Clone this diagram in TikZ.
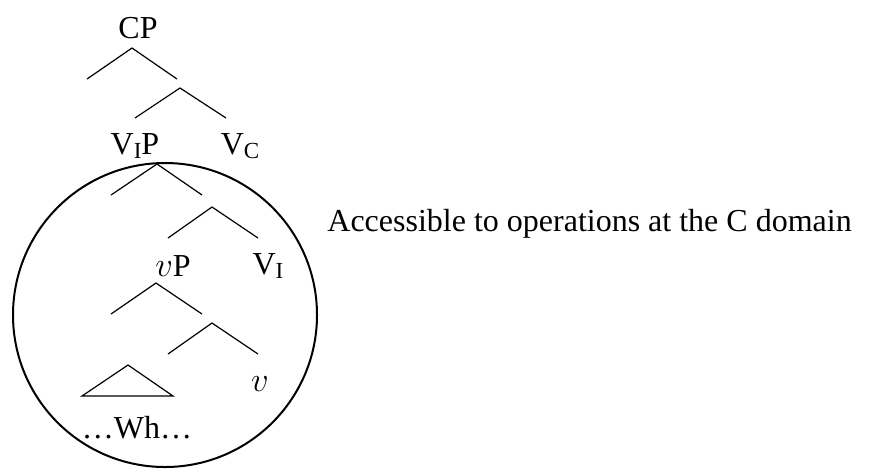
\documentclass[tikz,border=0pt]{standalone}
\usepackage{fontspec}
\setmainfont{Liberation Serif}
\usepackage{tikz}
\usetikzlibrary{positioning,calc}
\tikzset{
  node-label/.style={inner sep=0pt,font=\fontsize{16}{19}\selectfont},
  node-note/.style={inner sep=0pt,anchor=west,font=\fontsize{16}{19}\selectfont},
  branch/.style={line width=0.6pt,line join=miter},
  domain-ring/.style={line width=1pt},
}
\newcommand{\lowsub}[1]{\raisebox{-0.25ex}{\fontsize{11.5}{12}\selectfont #1}}

\begin{document}
\begin{tikzpicture}[x=0.5pt,y=-0.5pt]
  \useasboundingbox (0,0) rectangle (881,468);
  % labels
  \node[node-label] (cp)  at (138,28)  {CP};
  \node[node-label] (vip) at (135,146) {V\lowsub{I}P};
  \node[node-label] (vc)  at (240,146) {V\lowsub{C}};
  \node[node-label] (vp)  at (173,266) {$v$P};
  \node[node-label] (vi)  at (268,266) {V\lowsub{I}};
  \node[node-label] (v)   at (260,384) {$v$};
  \node[node-label] (wh)  at (137,428) {\dots Wh\dots};
  % branch points
  \coordinate (cp-top) at (132,48);
  \coordinate (cp-l)   at (87,79);
  \coordinate (cp-r)   at (177,79);
  \coordinate (cb-top) at (180,88);
  \coordinate (cb-l)   at (135,118);
  \coordinate (cb-r)   at (226,118);
  \coordinate (ip-top) at (157,164);
  \coordinate (ip-l)   at (111,195);
  \coordinate (ip-r)   at (202,195);
  \coordinate (ib-top) at (212,207);
  \coordinate (ib-l)   at (168,238);
  \coordinate (ib-r)   at (258,238);
  \coordinate (vp-top) at (156,283);
  \coordinate (vp-l)   at (111,314);
  \coordinate (vp-r)   at (202,314);
  \coordinate (vb-top) at (212,323);
  \coordinate (vb-l)   at (168,354);
  \coordinate (vb-r)   at (258,354);
  \coordinate (wh-top) at (128,365);
  \coordinate (wh-l)   at (82,396);
  \coordinate (wh-r)   at (173,396);
  \draw[branch] (cp-l) -- (cp-top) -- (cp-r);
  \draw[branch] (cb-l) -- (cb-top) -- (cb-r);
  \draw[branch] (ip-l) -- (ip-top) -- (ip-r);
  \draw[branch] (ib-l) -- (ib-top) -- (ib-r);
  \draw[branch] (vp-l) -- (vp-top) -- (vp-r);
  \draw[branch] (vb-l) -- (vb-top) -- (vb-r);
  \draw[branch] (wh-l) -- (wh-top) -- (wh-r) -- cycle;
  % accessible domain
  \draw[domain-ring] (165,315) ellipse [x radius=152,y radius=152];
  \node[node-note] (note) at (327,224) {Accessible to operations at the C domain};
\end{tikzpicture}
\end{document}
